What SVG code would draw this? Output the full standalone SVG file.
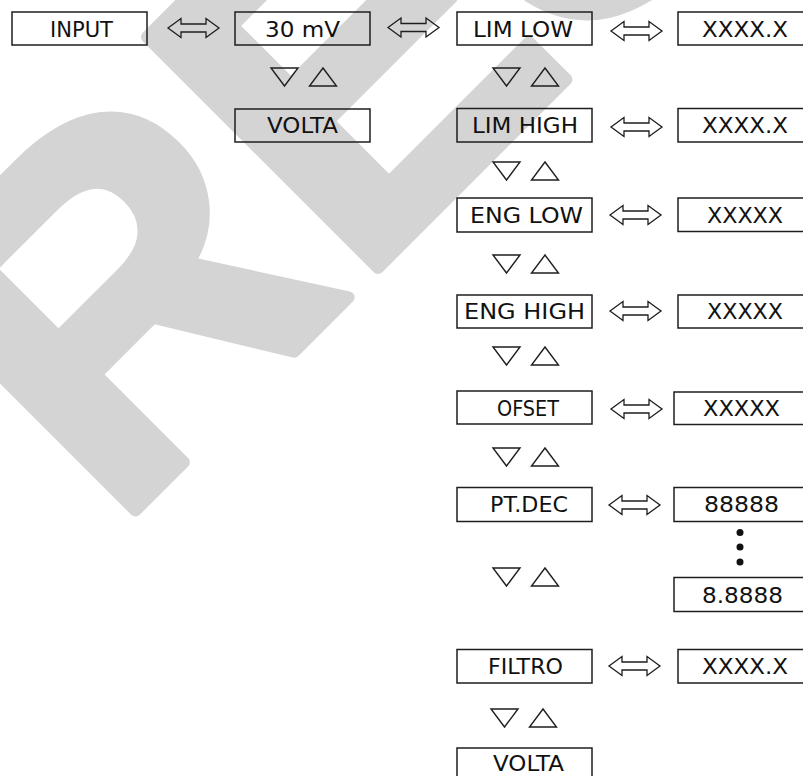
<svg xmlns="http://www.w3.org/2000/svg" width="803" height="776" viewBox="0 0 803 776">
<style>
.wm{font-family:"Liberation Sans",Arial,sans-serif;font-weight:bold;font-size:475px;fill:#d4d4d4;stroke:#d4d4d4;stroke-width:12;stroke-linejoin:round}
.box{fill:none;stroke:#1e1e1e;stroke-width:1.5}
.lbl{font-family:"DejaVu Sans","Liberation Sans",sans-serif;font-size:21px;fill:#111;text-anchor:middle}
.arr{fill:none;stroke:#1e1e1e;stroke-width:1.3;stroke-linejoin:miter}
.tri{fill:none;stroke:#1e1e1e;stroke-width:1.4}
</style>
<defs>
<path id="dblarrow" d="M0,0 L13,-9.5 L13,-4 L38,-4 L38,-9.5 L51,0 L38,9.5 L38,4 L13,4 L13,9.5 Z"/>
<g id="updown">
<path d="M0,0 L27,0 L13.5,18 Z"/>
<path d="M38.5,18 L65.5,18 L52,0 Z"/>
</g>
</defs>
<rect width="803" height="776" fill="#fff"/>
<text class="wm" x="113" y="533" transform="rotate(-45 113 533)">RES</text>

<g id="connectors">
<use href="#dblarrow" class="arr" x="168" y="28"/>
<use href="#dblarrow" class="arr" x="388" y="27.5"/>
<use href="#dblarrow" class="arr" x="611" y="31"/>
<use href="#dblarrow" class="arr" x="611" y="127"/>
<use href="#dblarrow" class="arr" x="610" y="215"/>
<use href="#dblarrow" class="arr" x="610" y="311"/>
<use href="#dblarrow" class="arr" x="611" y="409"/>
<use href="#dblarrow" class="arr" x="609" y="505"/>
<use href="#dblarrow" class="arr" x="609" y="666"/>
<use href="#updown" class="tri" x="271" y="68"/>
<use href="#updown" class="tri" x="493" y="68"/>
<use href="#updown" class="tri" x="493" y="162"/>
<use href="#updown" class="tri" x="493" y="255"/>
<use href="#updown" class="tri" x="493" y="347"/>
<use href="#updown" class="tri" x="493" y="448"/>
<use href="#updown" class="tri" x="493" y="568"/>
<use href="#updown" class="tri" x="491" y="709"/>
</g>

<g id="input"><rect class="box" x="12" y="12" width="135" height="33"/><text class="lbl" x="81.5" y="36.5" textLength="63" lengthAdjust="spacingAndGlyphs">INPUT</text></g>
<g id="mv30"><rect class="box" x="235" y="12" width="135" height="33"/><text class="lbl" x="302.5" y="36.5" textLength="75" lengthAdjust="spacingAndGlyphs">30 mV</text></g>
<g id="volta1"><rect class="box" x="235" y="109" width="135" height="33"/><text class="lbl" x="302.5" y="133" textLength="71" lengthAdjust="spacingAndGlyphs">VOLTA</text></g>

<g id="limlow"><rect class="box" x="457" y="12" width="135" height="33"/><text class="lbl" x="523" y="37" textLength="100" lengthAdjust="spacingAndGlyphs">LIM LOW</text></g>
<g id="limlow-val"><rect class="box" x="678" y="12" width="140" height="33"/><text class="lbl" x="745" y="37" textLength="86" lengthAdjust="spacingAndGlyphs">XXXX.X</text></g>

<g id="limhigh"><rect class="box" x="457" y="108.5" width="135" height="33.5"/><text class="lbl" x="525" y="133" textLength="106" lengthAdjust="spacingAndGlyphs">LIM HIGH</text></g>
<g id="limhigh-val"><rect class="box" x="678" y="108.5" width="140" height="33.5"/><text class="lbl" x="745" y="133" textLength="86" lengthAdjust="spacingAndGlyphs">XXXX.X</text></g>

<g id="englow"><rect class="box" x="457" y="198" width="135" height="34"/><text class="lbl" x="526.5" y="223" textLength="113" lengthAdjust="spacingAndGlyphs">ENG LOW</text></g>
<g id="englow-val"><rect class="box" x="678" y="198" width="140" height="33.5"/><text class="lbl" x="745" y="223" textLength="76" lengthAdjust="spacingAndGlyphs">XXXXX</text></g>

<g id="enghigh"><rect class="box" x="457" y="295" width="135" height="33"/><text class="lbl" x="524.5" y="318.5" textLength="121" lengthAdjust="spacingAndGlyphs">ENG HIGH</text></g>
<g id="enghigh-val"><rect class="box" x="678" y="295" width="140" height="33"/><text class="lbl" x="745" y="318.5" textLength="76" lengthAdjust="spacingAndGlyphs">XXXXX</text></g>

<g id="ofset"><rect class="box" x="457" y="391" width="135" height="33"/><text class="lbl" x="528" y="416" textLength="62" lengthAdjust="spacingAndGlyphs">OFSET</text></g>
<g id="ofset-val"><rect class="box" x="674" y="392" width="144" height="32.5"/><text class="lbl" x="741.5" y="416" textLength="77" lengthAdjust="spacingAndGlyphs">XXXXX</text></g>

<g id="ptdec"><rect class="box" x="457" y="487.5" width="135" height="34"/><text class="lbl" x="529" y="512" textLength="78" lengthAdjust="spacingAndGlyphs">PT.DEC</text></g>
<g id="ptdec-val1"><rect class="box" x="674" y="487.5" width="144" height="34"/><text class="lbl" x="741.5" y="512" textLength="75" lengthAdjust="spacingAndGlyphs">88888</text></g>
<g id="ptdec-dots" fill="#111"><circle cx="740" cy="532.5" r="3.5"/><circle cx="740" cy="547" r="3.5"/><circle cx="740" cy="562" r="3.5"/></g>
<g id="ptdec-val2"><rect class="box" x="674" y="577.5" width="144" height="34"/><text class="lbl" x="742.5" y="603" textLength="81" lengthAdjust="spacingAndGlyphs">8.8888</text></g>

<g id="filtro"><rect class="box" x="457" y="649.5" width="135" height="33.5"/><text class="lbl" x="525.5" y="673.5" textLength="75" lengthAdjust="spacingAndGlyphs">FILTRO</text></g>
<g id="filtro-val"><rect class="box" x="678" y="649.5" width="140" height="33.5"/><text class="lbl" x="745" y="673.5" textLength="86" lengthAdjust="spacingAndGlyphs">XXXX.X</text></g>

<g id="volta2"><rect class="box" x="457" y="748" width="135" height="40"/><text class="lbl" x="528.5" y="771" textLength="71" lengthAdjust="spacingAndGlyphs">VOLTA</text></g>
</svg>
